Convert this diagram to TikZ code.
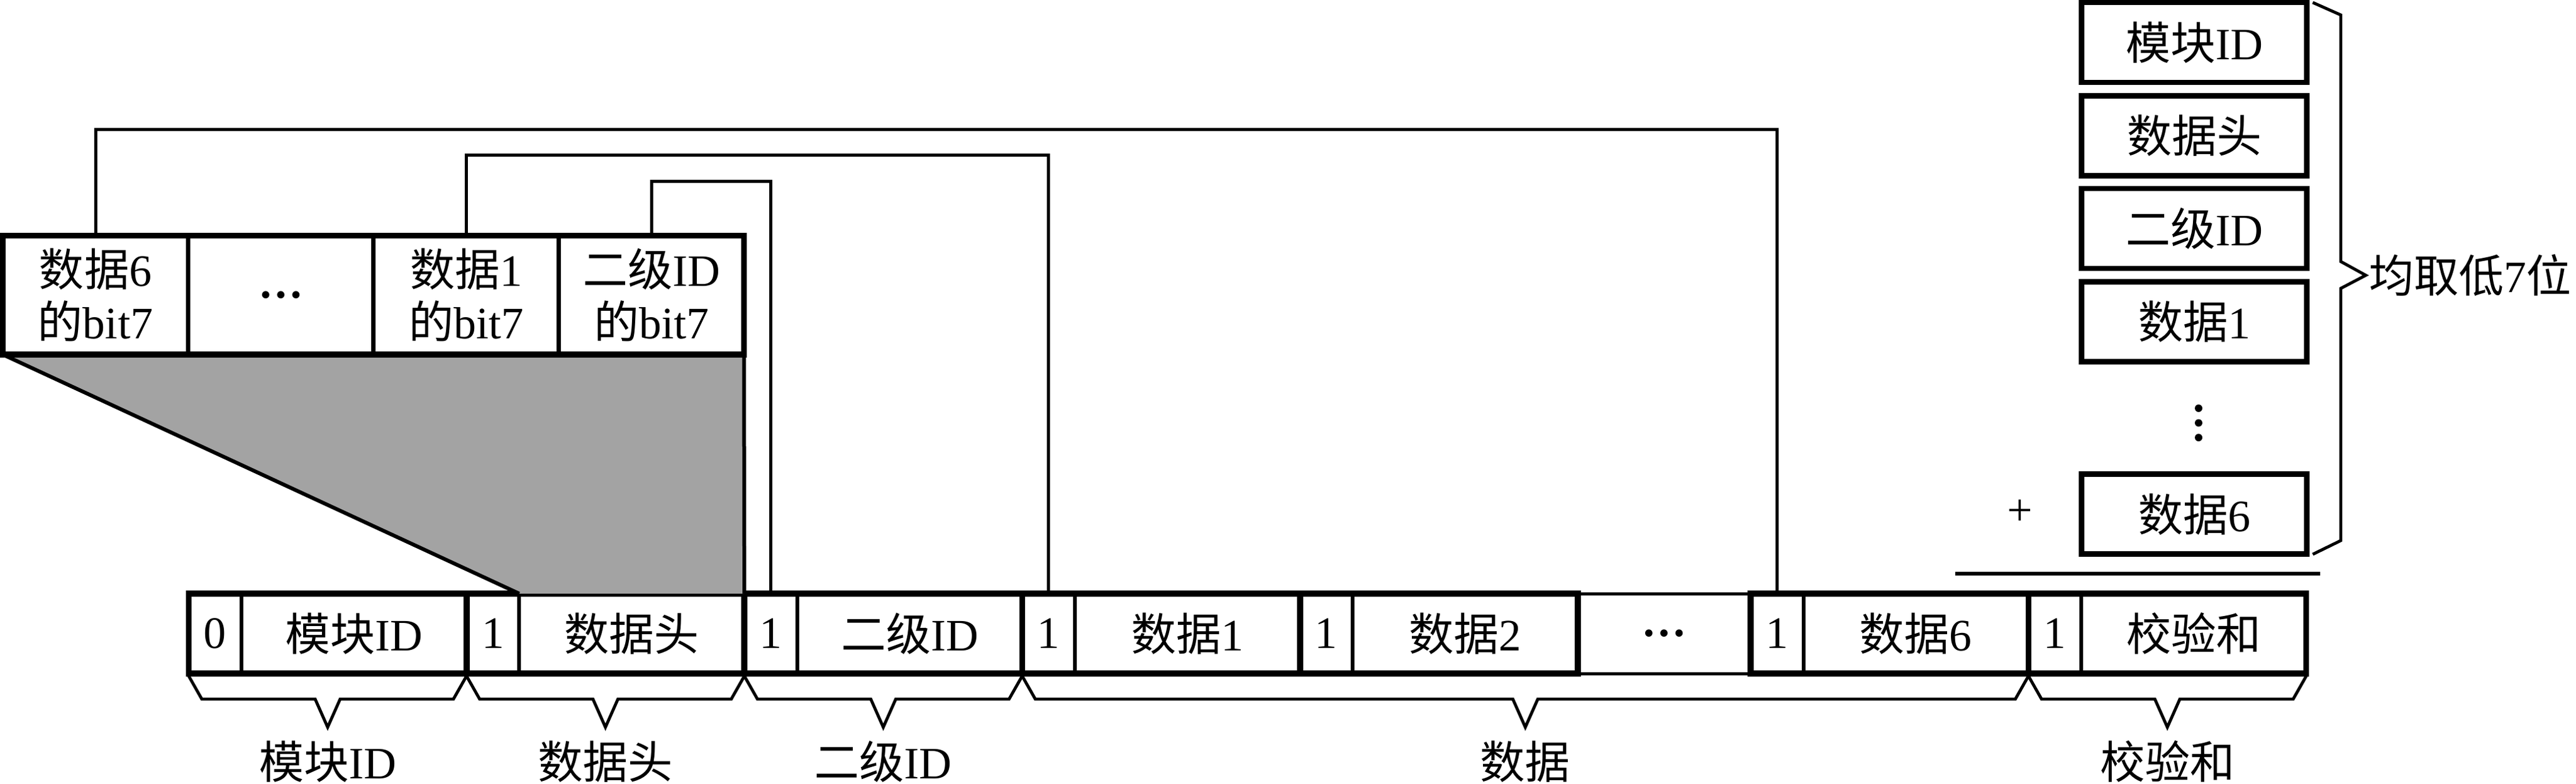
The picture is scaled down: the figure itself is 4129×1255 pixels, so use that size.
\documentclass[tikz,border=0pt]{standalone}
\usepackage{fontspec}
\setmainfont{Liberation Serif}
\newfontfamily\cjk{Noto Sans CJK SC}
\usetikzlibrary{calc}
\newcommand\zh[1]{{\cjk #1}}
\definecolor{funnelgray}{RGB}{163,163,163}
\tikzset{
  base/.style={inner sep=0pt, outer sep=0pt, font=\fontsize{18pt}{21pt}\selectfont, align=center},
  topcell/.style={base, draw, line width=1.6pt, minimum width=74.25pt, minimum height=47.625pt},
  bitcell/.style={base, draw, line width=1.5pt, minimum width=21.125pt, minimum height=32pt},
  valcell/.style={base, draw, line width=1.5pt, minimum width=90.2pt, minimum height=32pt},
  gapcell/.style={base, minimum width=69.25pt, minimum height=32pt},
  grpframe/.style={line width=2.4pt},
  stackbox/.style={base, draw, line width=2.2pt, minimum width=90.25pt, minimum height=32pt},
  conn/.style={line width=1.25pt},
  brc/.style={line width=1.2pt},
  edge/.style={line width=1.5pt},
}
\newcommand\fieldgrp[4]{%
  \node[bitcell, anchor=west] (#1b) at (#2) {#3};
  \node[valcell, anchor=west] (#1v) at (#1b.east) {#4};
  \draw[grpframe] (#1b.north west) rectangle (#1v.south east);}
\newcommand\underbr[4]{%
  \coordinate (#3L) at ($(#1)+(0,4)$);
  \coordinate (#3R) at ($(#2)+(0,4)$);
  \coordinate (#3M) at ($(#3L)!0.5!(#3R)$);
  \draw[brc] (#3L) -- ++(21,37) -- ($(#3M)+(-20,37)$) -- ($(#3M)+(0,82)$)
     -- ($(#3M)+(20,37)$) -- ($(#3R)+(-21,37)$) -- (#3R);
  \node[base] (#3) at ($(#3M)+(0,137)$) {#4};}
\begin{document}
\begin{tikzpicture}[x=0.25pt,y=-0.25pt]
\useasboundingbox (0,0) rectangle (4129,1255);

% top box (bit7 collection)
\node[topcell] (t6) at (153,472.75) {\zh{数据}6\\\zh{的}bit7};
\node[topcell, anchor=west] (tdots) at (t6.east) {\textbf{…}};
\node[topcell, anchor=west] (t1) at (tdots.east) {\zh{数据}1\\\zh{的}bit7};
\node[topcell, anchor=west] (t2) at (t1.east) {\zh{二级}ID\\\zh{的}bit7};

% bottom row
\fieldgrp{mod}{302.5,1015}{0}{\zh{模块}ID}
\fieldgrp{head}{modv.east}{1}{\zh{数据头}}
\fieldgrp{sid}{headv.east}{1}{\zh{二级}ID}
\fieldgrp{da}{sidv.east}{1}{\zh{数据}1}
\fieldgrp{db}{dav.east}{1}{\zh{数据}2}
\node[gapcell, anchor=west] (ddots) at (dbv.east) {\textbf{…}};
\draw[conn] (ddots.north west) -- (ddots.north east) (ddots.south west) -- (ddots.south east);
\fieldgrp{df}{ddots.east}{1}{\zh{数据}6}
\fieldgrp{sum}{dfv.east}{1}{\zh{校验和}}

% grey funnel
\fill[funnelgray] (t6.south west) -- (t2.south east) -- (headv.north east) -- (headv.north west) -- cycle;
\draw[edge] (t6.south west) -- (headv.north west);
\draw[edge] (t2.south east) -- (headv.north east);
\draw[grpframe] (t6.north west) rectangle (t2.south east);

% connectors
\coordinate (h1) at (0,207);
\coordinate (h2) at (0,248.5);
\coordinate (h3) at (0,290.5);
\draw[conn] (t6.north) -- (t6.north |- h1) -| (dfb.north);
\draw[conn] (t1.north) -- (t1.north |- h2) -| (dab.north);
\draw[conn] (t2.north) -- (t2.north |- h3) -| (sidb.north);

% braces under the row
\underbr{modb.south west}{modv.south east}{lmod}{\zh{模块}ID}
\underbr{headb.south west}{headv.south east}{lhead}{\zh{数据头}}
\underbr{sidb.south west}{sidv.south east}{lsid}{\zh{二级}ID}
\underbr{dab.south west}{dfv.south east}{ldata}{\zh{数据}}
\underbr{sumb.south west}{sumv.south east}{lsum}{\zh{校验和}}

% checksum stack
\node[stackbox] (s1) at (3517,68) {\zh{模块}ID};
\node[stackbox] (s2) at (3517,217.5) {\zh{数据头}};
\node[stackbox] (s3) at (3517,366) {\zh{二级}ID};
\node[stackbox] (s4) at (3517,515.3) {\zh{数据}1};
\node[stackbox] (s6) at (3517,823.8) {\zh{数据}6};
\fill (3524,654) circle[radius=1.5pt];
\fill (3524,677.5) circle[radius=1.5pt];
\fill (3524,701) circle[radius=1.5pt];
\node[base] (plus) at (3238,821) {+};
\draw[brc] (3707,4) -- (3752,24) -- (3752,419) -- (3792,441) -- (3752,462) -- (3752,866) -- (3707,888);
\node[base, anchor=west] (avg) at (3797,441) {\zh{均取低}7\zh{位}};
\coordinate (sl) at (3134,919);
\coordinate (sr) at (3719,919);
\draw[edge] (sl) -- (sr);
\end{tikzpicture}
\end{document}
